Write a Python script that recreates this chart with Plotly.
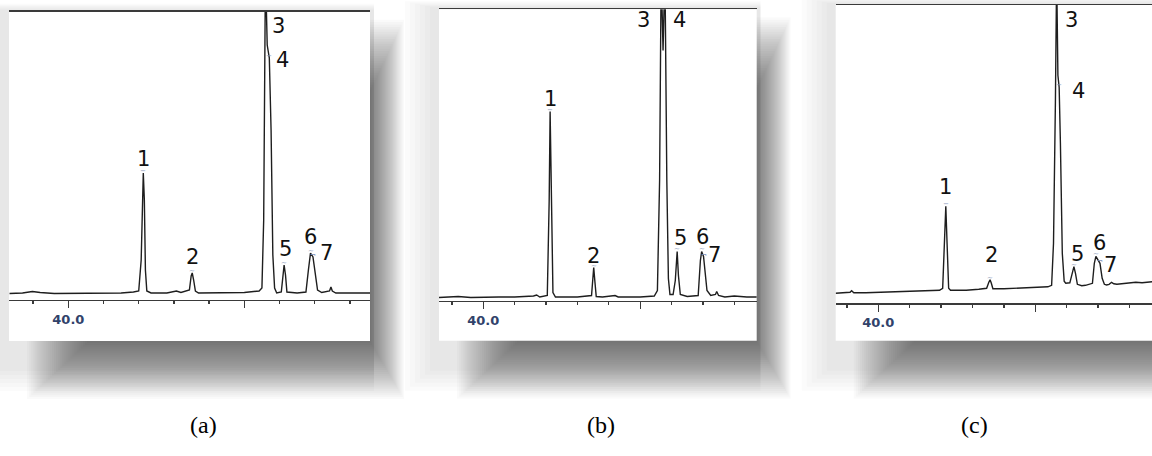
import plotly.graph_objects as go

W, H = 1152, 456

# ---------------- data (retention time in min, detector signal, arbitrary units) ----------------
peak_ids = ["1", "2", "3", "4", "5", "6", "7"]
panel_names = ["(a)", "(b)", "(c)"]
major_ticks = [40, 45]
major_text = ["40.0", ""]
minor_ticks = [39, 41, 42, 43, 44, 46, 47, 48]

time_a = [38.33, 38.7, 38.98, 39.2, 39.6, 40.0, 40.5, 41.0, 41.5, 41.85, 42.0, 42.07, 42.11, 42.13,
          42.16, 42.19, 42.23, 42.35, 42.8, 43.07, 43.2, 43.44, 43.49, 43.52, 43.56, 43.61, 43.7, 44.5,
          45.0, 45.42, 45.5, 45.55, 45.6, 45.65, 45.71, 45.76, 45.81, 45.86, 45.92, 46.05, 46.1, 46.13,
          46.17, 46.21, 46.5, 46.75, 46.82, 46.88, 46.95, 47.01, 47.08, 47.2, 47.42, 47.46, 47.5, 47.6,
          48.0, 48.57]
signal_a = [6.5, 7, 8.5, 7.5, 6.5, 6.5, 6.8, 6.5, 7, 8, 9, 40, 110, 127,
            100, 30, 9, 7, 7, 9, 7.5, 10, 24, 27, 20, 9, 7, 7,
            7.5, 9, 12, 80, 330, 255, 242, 170, 45, 12, 7, 8, 25, 35,
            25, 8, 7, 8, 30, 47, 43, 25, 10, 7.5, 9, 13, 9, 7,
            7, 7]
peak_time_a = [42.13, 43.52, 45.6, 45.71, 46.13, 46.88, 46.95]
peak_height_a = [127, 27, 330, 242, 35, 47, 43]

time_b = [38.58, 39.2, 39.6, 40.0, 40.5, 41.0, 41.6, 41.7, 41.8, 42.04, 42.1, 42.13, 42.17, 42.22,
          42.3, 43.0, 43.45, 43.49, 43.52, 43.56, 43.6, 43.8, 44.2, 44.3, 45.0, 45.45, 45.55, 45.62,
          45.67, 45.73, 45.79, 45.85, 45.9, 45.95, 46.05, 46.12, 46.18, 46.22, 46.28, 46.5, 46.85,
          46.92, 46.96, 47.02, 47.07, 47.13, 47.25, 47.4, 47.44, 47.5, 47.7, 48.0, 48.4, 48.72]
signal_b = [3, 4, 3, 3.5, 3.5, 3.5, 4.5, 5.5, 3.5, 5, 100, 189, 110, 8,
            3.5, 3.5, 5, 20, 33, 18, 4, 3.5, 5, 3.5, 3.5, 4.5, 10, 120,
            330, 250, 330, 120, 22, 6, 6, 20, 49, 25, 6, 4, 5,
            40, 49, 44, 30, 10, 5, 6, 9, 5, 3.5, 4.5, 3.5, 3.5]
peak_time_b = [42.13, 43.52, 45.67, 45.79, 46.18, 46.96, 47.02]
peak_height_b = [189, 33, 330, 330, 49, 49, 44]

time_c = [38.64, 38.9, 39.1, 39.15, 39.22, 39.6, 40.0, 40.5, 41.0, 41.5, 41.75, 41.95, 42.05, 42.1,
          42.15, 42.19, 42.24, 42.3, 42.8, 43.2, 43.45, 43.52, 43.56, 43.6, 43.65, 44.0, 44.5, 45.0,
          45.4, 45.52, 45.58, 45.64, 45.68, 45.72, 45.76, 45.8, 45.86, 45.92, 45.97, 46.1, 46.18,
          46.23, 46.28, 46.34, 46.48, 46.6, 46.82, 46.88, 46.93, 46.98, 47.06, 47.13, 47.2, 47.27,
          47.35, 47.43, 47.5, 47.6, 48.0, 48.2, 48.4, 48.72]
signal_c = [10, 10.5, 11, 12.5, 10.5, 10.5, 11, 11.5, 12, 12.5, 13.5, 13, 15, 60,
            97, 60, 15, 13, 13, 14, 15, 21, 23.5, 20, 14.5, 14.5, 15, 15.5,
            16.5, 18, 60, 200, 330, 228, 216, 160, 50, 22, 20, 20.5, 30,
            36.6, 30, 19, 17.6, 18, 20, 40, 47, 44, 40, 25, 19, 18.3,
            19, 21, 19.5, 19, 20, 21, 20.5, 21.5]
peak_time_c = [42.15, 43.56, 45.68, 45.76, 46.23, 46.93, 47.06]
peak_height_c = [97, 23.5, 330, 216, 36.6, 47, 40]

# ---------------- layout / style ----------------
panels = [
    dict(t=time_a, s=signal_a, pt=peak_time_a, ph=peak_height_a,
         box=(9, 11.7, 370, 341), axis_y=300, xr=[38.315, 48.57], yr=[0, 288.3],
         lab=[(0, 14), (0, 16), (13, -14), (13, -2), (1, 16), (0, 16), (14, 4)],
         cap_x=188),
    dict(t=time_b, s=signal_b, pt=peak_time_b, ph=peak_height_b,
         box=(439, 9.3, 756.7, 340.7), axis_y=300.5, xr=[38.588, 48.715], yr=[0, 291.2],
         lab=[(0, 13), (0, 12), (-18, -11), (15, -11), (3, 13), (1, 14), (11, 2)],
         cap_x=601),
    dict(t=time_c, s=signal_c, pt=peak_time_c, ph=peak_height_c,
         box=(835.7, 5, 1152, 340.7), axis_y=303.3, xr=[38.643, 48.717], yr=[0, 298.3],
         lab=[(0, 19), (1, 25), (15, -15), (19, -4), (4, 13), (4, 13), (11, -2)],
         cap_x=990),
]
mark_glyph = ["−", "~", "~", "−", "~", "~", "¬"]


def px(x):
    return x / W


def py(y):
    return 1 - y / H


fig = go.Figure()
shapes = []
annotations = []

for i, p in enumerate(panels):
    x0, y0, x1, y1 = p["box"]
    # soft halo (top/left)
    for k in range(6):
        shapes.append(dict(type="rect", xref="paper", yref="paper", layer="below",
                           x0=px(x0 - 34 + 5 * k), y0=py(y1 + 50 - 4 * k),
                           x1=px(x1 + 4), y1=py(y0 - 8 + 1.2 * k),
                           line=dict(width=0), fillcolor="rgba(0,0,0,0.014)"))
    # drop shadow (right / bottom), built from stacked translucent layers
    N = 30
    for k in range(N):
        f = k / (N - 1)
        shapes.append(dict(type="rect", xref="paper", yref="paper", layer="below",
                           x0=px(x0 + 18 + 60 * f), y0=py(y1 + 58 - 56 * f),
                           x1=px(x1 + 34 - 33 * f), y1=py(y0 + 8 + 70 * f),
                           line=dict(width=0), fillcolor="rgba(0,0,0,0.021)"))
    # white card
    shapes.append(dict(type="rect", xref="paper", yref="paper", layer="below",
                       x0=px(x0), y0=py(y1), x1=px(x1), y1=py(y0),
                       line=dict(width=0), fillcolor="white"))

    xa = "x" if i == 0 else f"x{i + 1}"
    ya = "y" if i == 0 else f"y{i + 1}"
    fig.add_trace(go.Scatter(x=p["t"], y=p["s"], mode="lines", xaxis=xa, yaxis=ya,
                             line=dict(color="#1e1e1e", width=1.4), showlegend=False,
                             hoverinfo="skip"))

    xkey = "xaxis" if i == 0 else f"xaxis{i + 1}"
    ykey = "yaxis" if i == 0 else f"yaxis{i + 1}"
    fig.update_layout(**{
        xkey: dict(domain=[px(x0), px(x1)], range=p["xr"], anchor=ya,
                   showline=True, mirror=True, linecolor="#3a3a3a", linewidth=1.4,
                   ticks="outside", tickvals=major_ticks, ticktext=major_text,
                   ticklen=7, tickwidth=1.3, tickcolor="#3a3a3a",
                   minor=dict(tickvals=minor_ticks, ticks="outside", ticklen=3,
                              tickwidth=1.3, tickcolor="#3a3a3a"),
                   showgrid=False, zeroline=False, fixedrange=True,
                   tickfont=dict(family="DejaVu Sans", size=13, color="#31426a",
                                 weight="bold")),
        ykey: dict(domain=[py(p["axis_y"]), py(y0)], range=p["yr"], anchor=xa,
                   visible=False, fixedrange=True),
    })

    top = p["yr"][1]
    for j, pid in enumerate(peak_ids):
        yv = min(p["ph"][j], top)
        dx, dy = p["lab"][j]
        annotations.append(dict(x=p["pt"][j], y=yv, xref=xa, yref=ya, text=pid,
                                showarrow=False, xshift=dx, yshift=dy,
                                font=dict(family="DejaVu Sans", size=21, color="#111111")))
        if p["ph"][j] <= top:
            annotations.append(dict(x=p["pt"][j], y=yv, xref=xa, yref=ya, text=mark_glyph[j],
                                    showarrow=False, yshift=2,
                                    font=dict(family="DejaVu Sans", size=7, color="#7f93b8")))

    annotations.append(dict(x=px(p["cap_x"]), y=py(440), xref="paper", yref="paper",
                            text=panel_names[i], showarrow=False,
                            font=dict(family="Liberation Serif", size=24, color="black")))

fig.update_layout(width=W, height=H, autosize=False,
                  margin=dict(l=0, r=0, t=0, b=0),
                  paper_bgcolor="white", plot_bgcolor="rgba(0,0,0,0)",
                  shapes=shapes, annotations=annotations, showlegend=False)

fig.write_html("out.html", config={"displayModeBar": False, "staticPlot": True},
               post_script="document.body.style.margin='0';document.body.style.overflow='hidden';")
